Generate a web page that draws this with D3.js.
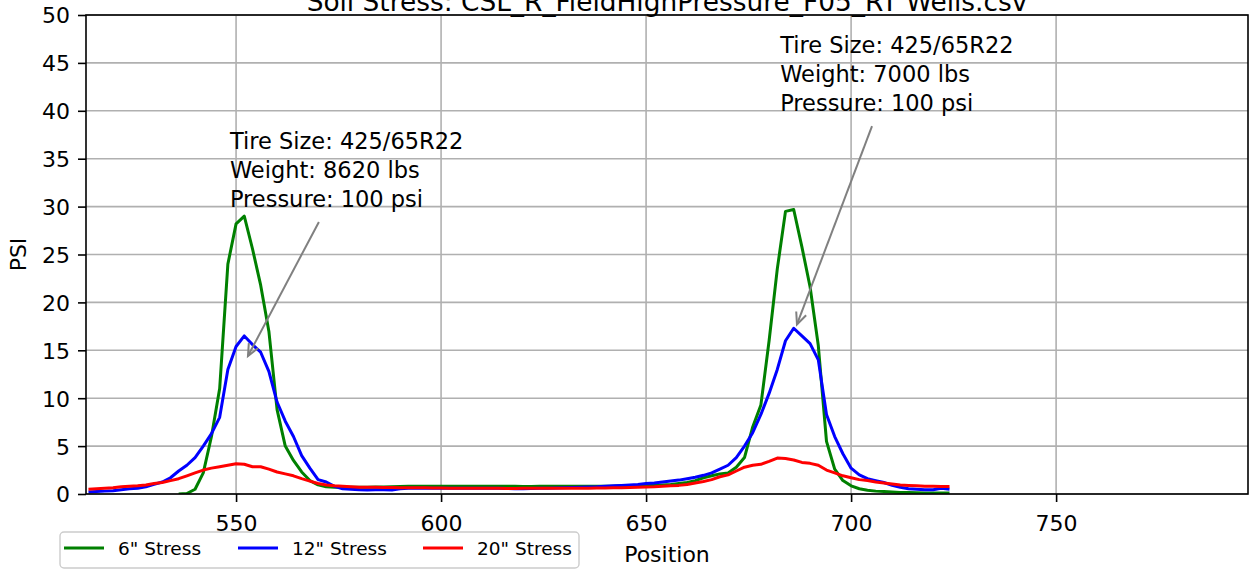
<!DOCTYPE html>
<html>
<head>
<meta charset="utf-8">
<script src="https://cdn.jsdelivr.net/npm/d3@7"></script>
<style>
  html, body { margin: 0; padding: 0; background: #ffffff; }
  svg { display: block; font-family: "DejaVu Sans", sans-serif; }
</style>
</head>
<body>
<svg id="chart" width="1256" height="572"></svg>
<script>
// ---------------- data ----------------
const titleText = "Soil Stress: CSL_R_FieldHighPressure_F05_RT Wells.csv";
const xLabel = "Position";
const yLabel = "PSI";

const positions = [
  514,516,518,520,522,524,526,528,530,532,
  534,536,538,540,542,544,546,548,550,552,
  554,556,558,560,562,564,566,568,570,572,
  574,576,578,580,582,584,586,588,590,592,
  594,596,598,600,602,604,606,608,610,612,
  614,616,618,620,622,624,626,628,630,632,
  634,636,638,640,642,644,646,648,650,652,
  654,656,658,660,662,664,666,668,670,672,
  674,676,678,680,682,684,686,688,690,692,
  694,696,698,700,702,704,706,708,710,712,
  714,716,718,720,722,724
];

const stress6 = [
  null,null,null,null,null,null,null,null,null,null,
  null,0.0,0.05,0.5,2.2,6.0,11.0,24.0,28.2,29.0,
  25.6,21.8,17.0,8.8,5.0,3.5,2.3,1.4,0.95,0.75,
  0.7,0.7,0.7,0.7,0.7,0.72,0.72,0.75,0.78,0.8,
  0.8,0.8,0.8,0.8,0.8,0.8,0.8,0.8,0.8,0.8,
  0.8,0.8,0.8,0.78,0.78,0.8,0.8,0.8,0.8,0.8,
  0.8,0.8,0.8,0.82,0.82,0.85,0.85,0.85,0.88,0.9,
  0.95,1.0,1.1,1.2,1.4,1.7,1.9,2.1,2.2,2.8,
  3.8,7.0,9.3,16.0,23.5,29.5,29.7,25.8,21.6,15.5,
  5.5,2.6,1.4,0.85,0.55,0.4,0.3,0.25,0.2,0.15,
  0.15,0.12,0.1,0.1,0.1,0.1
];

const stress12 = [
  0.2,0.25,0.3,0.35,0.45,0.55,0.6,0.75,1.0,1.25,
  1.7,2.4,3.0,3.8,5.0,6.3,8.0,13.0,15.4,16.5,
  15.6,14.8,12.8,9.6,7.6,6.0,4.0,2.7,1.5,1.25,
  0.8,0.55,0.5,0.45,0.42,0.45,0.45,0.42,0.55,0.6,
  0.6,0.6,0.6,0.6,0.6,0.6,0.6,0.6,0.6,0.6,
  0.6,0.58,0.55,0.55,0.58,0.6,0.6,0.62,0.65,0.68,
  0.7,0.72,0.75,0.8,0.85,0.9,0.95,1.0,1.1,1.15,
  1.25,1.35,1.45,1.6,1.75,1.95,2.2,2.6,3.0,3.8,
  5.0,6.4,8.3,10.5,13.0,16.0,17.3,16.5,15.7,14.0,
  8.3,6.0,4.2,2.7,2.0,1.6,1.4,1.2,0.9,0.7,
  0.55,0.5,0.45,0.45,0.6,0.5
];

const stress20 = [
  0.5,0.55,0.6,0.65,0.75,0.8,0.85,0.95,1.1,1.2,
  1.4,1.6,1.9,2.2,2.5,2.7,2.85,3.0,3.15,3.1,
  2.85,2.85,2.6,2.3,2.1,1.9,1.6,1.35,1.1,0.95,
  0.85,0.8,0.75,0.7,0.7,0.7,0.68,0.68,0.66,0.65,
  0.65,0.65,0.62,0.62,0.6,0.6,0.6,0.6,0.6,0.6,
  0.6,0.58,0.58,0.6,0.6,0.6,0.6,0.6,0.6,0.6,
  0.6,0.6,0.62,0.62,0.65,0.65,0.68,0.7,0.72,0.75,
  0.8,0.85,0.9,1.0,1.15,1.3,1.5,1.8,2.0,2.4,
  2.8,3.0,3.1,3.4,3.75,3.7,3.55,3.3,3.2,3.0,
  2.5,2.2,1.9,1.7,1.5,1.4,1.25,1.15,1.05,0.95,
  0.9,0.85,0.8,0.8,0.78,0.78
];

const seriesNames = ['6" Stress', '12" Stress', '20" Stress'];
const seriesColors = ["#008000", "#0000ff", "#ff0000"];

const xTicks = [550, 600, 650, 700, 750];
const yTicks = [0, 5, 10, 15, 20, 25, 30, 35, 40, 45, 50];
const xDomain = [513.4, 796.8];
const yDomain = [0, 50];

// annotations (data units)
const annoLines = [
  ["Tire Size: 425/65R22", "Weight: 8620 lbs", "Pressure: 100 psi"],
  ["Tire Size: 425/65R22", "Weight: 7000 lbs", "Pressure: 100 psi"]
];
const annoTextPos = [[548.5, 30], [682.7, 40]];
const annoArrowFrom = [[570.2, 28.4], [705.1, 38.4]];
const annoArrowTo = [[552.9, 14.4], [686.8, 17.7]];

// ---------------- chart ----------------
const W = 1256, H = 572;
const plot = { left: 86, right: 1248, top: 15, bottom: 494 };
const svg = d3.select("#chart");

const x = d3.scaleLinear().domain(xDomain).range([plot.left, plot.right]);
const y = d3.scaleLinear().domain(yDomain).range([plot.bottom, plot.top]);

// grid
const grid = svg.append("g");
grid.selectAll("line.gx").data(xTicks).join("line")
  .attr("x1", d => x(d)).attr("x2", d => x(d))
  .attr("y1", plot.top).attr("y2", plot.bottom)
  .attr("stroke", "#b0b0b0").attr("stroke-width", 1.6);
grid.selectAll("line.gy").data(yTicks).join("line")
  .attr("x1", plot.left).attr("x2", plot.right)
  .attr("y1", d => y(d)).attr("y2", d => y(d))
  .attr("stroke", "#b0b0b0").attr("stroke-width", 1.6);

// clip
svg.append("defs").append("clipPath").attr("id", "clip")
  .append("rect").attr("x", plot.left).attr("y", plot.top)
  .attr("width", plot.right - plot.left).attr("height", plot.bottom - plot.top);

const seriesData = [stress6, stress12, stress20];
const line = d3.line()
  .defined(d => d[1] !== null)
  .x(d => x(d[0])).y(d => y(d[1]));

const lines = svg.append("g").attr("clip-path", "url(#clip)");
seriesData.forEach((vals, i) => {
  lines.append("path")
    .datum(positions.map((p, j) => [p, vals[j]]))
    .attr("fill", "none")
    .attr("stroke", seriesColors[i])
    .attr("stroke-width", 3)
    .attr("stroke-linejoin", "round")
    .attr("stroke-linecap", "butt")
    .attr("d", line);
});

// axes
const xAxis = svg.append("g").attr("transform", `translate(0,${plot.bottom})`)
  .call(d3.axisBottom(x).tickValues(xTicks).tickSize(8).tickPadding(13).tickFormat(d3.format("d")));
const yAxis = svg.append("g").attr("transform", `translate(${plot.left},0)`)
  .call(d3.axisLeft(y).tickValues(yTicks).tickSize(8).tickPadding(8).tickFormat(d3.format("d")));
[xAxis, yAxis].forEach(a => {
  a.select(".domain").remove();
  a.selectAll(".tick line").attr("stroke", "#000").attr("stroke-width", 1.6);
  a.selectAll(".tick text").attr("fill", "#000")
    .style("font-size", "22px").style("font-family", "DejaVu Sans");
});
yAxis.selectAll(".tick text").attr("dy", "0.36em");

// frame
svg.append("rect")
  .attr("x", plot.left).attr("y", plot.top)
  .attr("width", plot.right - plot.left).attr("height", plot.bottom - plot.top)
  .attr("fill", "none").attr("stroke", "#000").attr("stroke-width", 1.6);

// title
svg.append("text")
  .attr("x", (plot.left + plot.right) / 2).attr("y", 11)
  .attr("text-anchor", "middle")
  .style("font-size", "26.4px").attr("fill", "#000")
  .text(titleText);

// axis labels
svg.append("text")
  .attr("x", (plot.left + plot.right) / 2).attr("y", 562)
  .attr("text-anchor", "middle").style("font-size", "22px").attr("fill", "#000")
  .text(xLabel);
svg.append("text")
  .attr("transform", `translate(26,${(plot.top + plot.bottom) / 2}) rotate(-90)`)
  .attr("text-anchor", "middle").style("font-size", "22px").attr("fill", "#000")
  .text(yLabel);

// annotations
const annG = svg.append("g");
annoLines.forEach((txt, i) => {
  const tx = x(annoTextPos[i][0]), ty = y(annoTextPos[i][1]);
  const t = annG.append("text").attr("x", tx).attr("y", ty)
    .style("font-size", "22.5px").attr("fill", "#000");
  const n = txt.length;
  txt.forEach((s, k) => {
    annG.append("text")
      .attr("x", tx).attr("y", ty - (n - 1 - k) * 28.7)
      .style("font-size", "22.5px").attr("fill", "#000")
      .text(s);
  });
  t.remove();
  const x1 = x(annoArrowFrom[i][0]), y1 = y(annoArrowFrom[i][1]);
  const x2 = x(annoArrowTo[i][0]), y2 = y(annoArrowTo[i][1]);
  annG.append("line").attr("x1", x1).attr("y1", y1).attr("x2", x2).attr("y2", y2)
    .attr("stroke", "#808080").attr("stroke-width", 2);
  const ang = Math.atan2(y1 - y2, x1 - x2);
  const L = 13, spread = 0.42;
  const p = d3.path();
  p.moveTo(x2 + L * Math.cos(ang + spread), y2 + L * Math.sin(ang + spread));
  p.lineTo(x2, y2);
  p.lineTo(x2 + L * Math.cos(ang - spread), y2 + L * Math.sin(ang - spread));
  annG.append("path").attr("d", p.toString())
    .attr("fill", "none").attr("stroke", "#808080").attr("stroke-width", 2)
    .attr("stroke-linejoin", "miter");
});

// legend
const leg = svg.append("g");
leg.append("rect").attr("x", 60).attr("y", 532).attr("width", 519).attr("height", 36)
  .attr("rx", 4).attr("fill", "#fff").attr("fill-opacity", 0.8)
  .attr("stroke", "#cccccc").attr("stroke-width", 1.4);
const legLineX = [64, 238, 423];
seriesNames.forEach((nm, i) => {
  leg.append("line").attr("x1", legLineX[i]).attr("x2", legLineX[i] + 40)
    .attr("y1", 548).attr("y2", 548)
    .attr("stroke", seriesColors[i]).attr("stroke-width", 3);
  leg.append("text").attr("x", legLineX[i] + 54).attr("y", 554.5)
    .style("font-size", "18.5px").attr("fill", "#000").text(nm);
});
</script>
</body>
</html>
